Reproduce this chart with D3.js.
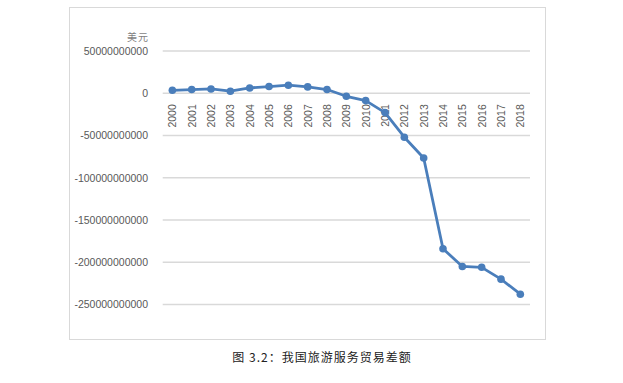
<!DOCTYPE html>
<html>
<head>
<meta charset="utf-8">
<script src="https://cdn.jsdelivr.net/npm/d3@7"></script>
<style>
  body { margin: 0; background: #fff; }
  svg text { font-family: "Liberation Sans", Arial, sans-serif; }
</style>
</head>
<body>
<svg id="canvas" width="623" height="383"></svg>
<script>
var years = ["2000", "2001", "2002", "2003", "2004", "2005", "2006", "2007", "2008", "2009",
             "2010", "2011", "2012", "2013", "2014", "2015", "2016", "2017", "2018"];
var balance = [3.5e9, 4.4e9, 5.1e9, 2.4e9, 6.3e9, 7.9e9, 9.5e9, 7.5e9, 4.4e9, -3.6e9,
               -8.7e9, -22.9e9, -52e9, -76.7e9, -184e9, -205e9, -206e9, -220e9, -237.8e9];
var yTicks = [50e9, 0, -50e9, -100e9, -150e9, -200e9, -250e9];

var svg = d3.select("#canvas");

// chart frame
svg.append("rect")
  .attr("x", 69.5).attr("y", 7.5)
  .attr("width", 476).attr("height", 332)
  .attr("fill", "#fff").attr("stroke", "#d9d9d9").attr("stroke-width", 1);

var x = d3.scaleBand().domain(years).range([162.7, 530]);
var y = d3.scaleLinear().domain([-250e9, 50e9]).range([304.5, 51]);

// gridlines
svg.append("g").selectAll("line")
  .data(yTicks)
  .enter().append("line")
    .attr("x1", 162.7).attr("x2", 530)
    .attr("y1", function(d) { return y(d); })
    .attr("y2", function(d) { return y(d); })
    .attr("stroke", "#d9d9d9")
    .attr("stroke-width", 1.5);

// y axis labels
var yAxis = d3.axisLeft(y).tickValues(yTicks).tickSize(0).tickPadding(0)
  .tickFormat(function(d) { return String(d); });
var gy = svg.append("g").attr("transform", "translate(148,0)").call(yAxis);
gy.select(".domain").remove();
gy.selectAll("text")
  .attr("fill", "#595959")
  .style("font-size", "10.5px");

// unit label
svg.append("text")
  .attr("x", 149).attr("y", 41)
  .attr("text-anchor", "end")
  .attr("fill", "#7f7f7f")
  .style("font-family", "'Noto Sans CJK SC', sans-serif")
  .style("font-size", "10px")
  .style("letter-spacing", "1px")
  .text("美元");

// x axis labels at zero line, rotated
var xAxis = d3.axisBottom(x).tickSize(0).tickPadding(0);
var gx = svg.append("g").attr("transform", "translate(0," + y(0) + ")").call(xAxis);
gx.select(".domain").remove();
gx.selectAll("text")
  .attr("fill", "#595959")
  .style("font-size", "10.5px")
  .attr("text-anchor", "end")
  .attr("dy", null)
  .attr("transform", "translate(4,11) rotate(-90)");

// line
var line = d3.line()
  .x(function(d, i) { return x(years[i]) + x.bandwidth() / 2; })
  .y(function(d) { return y(d); });

svg.append("path")
  .datum(balance)
  .attr("d", line)
  .attr("fill", "none")
  .attr("stroke", "#4a7ebb")
  .attr("stroke-width", 2.8)
  .attr("stroke-linejoin", "round");

svg.append("g").selectAll("circle")
  .data(balance)
  .enter().append("circle")
    .attr("cx", function(d, i) { return x(years[i]) + x.bandwidth() / 2; })
    .attr("cy", function(d) { return y(d); })
    .attr("r", 3.8)
    .attr("fill", "#4a7ebb");

// caption
svg.append("text")
  .attr("x", 322).attr("y", 362)
  .attr("text-anchor", "middle")
  .attr("fill", "#222")
  .style("font-family", "'Noto Sans CJK SC', sans-serif")
  .style("font-size", "12px")
  .style("letter-spacing", "1px")
  .text("图 3.2：我国旅游服务贸易差额");
</script>
</body>
</html>
